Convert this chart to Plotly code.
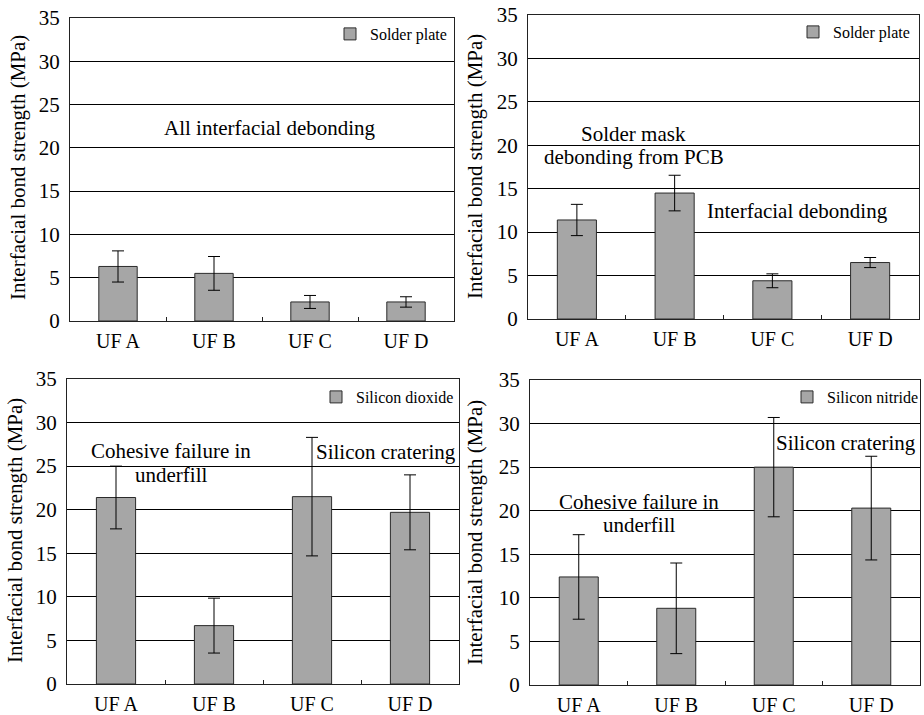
import plotly.graph_objects as go

# ---- data -----------------------------------------------------------------
categories = ["UF A", "UF B", "UF C", "UF D"]

panel_names = ["Solder plate", "Solder plate", "Silicon dioxide", "Silicon nitride"]

strength_p1 = [6.3, 5.5, 2.2, 2.2]
error_p1 = [1.8, 1.95, 0.75, 0.6]

strength_p2 = [11.4, 14.5, 4.4, 6.5]
error_p2 = [1.8, 2.05, 0.8, 0.58]

strength_p3 = [21.4, 6.7, 21.5, 19.7]
error_p3 = [3.6, 3.15, 6.8, 4.3]

strength_p4 = [12.4, 8.8, 25.0, 20.3]
error_p4 = [4.85, 5.2, 5.7, 5.95]

y_ticks = [0, 5, 10, 15, 20, 25, 30, 35]
y_title = "Interfacial bond strength (MPa)"

# ---- layout geometry (pixels in a 924 x 715 page) -------------------------
W, H = 924, 715
FONT = "'Liberation Serif', 'Times New Roman', 'DejaVu Serif', serif"

# plot boxes: left, right, top, bottom
boxes = [
    (70, 454, 18, 321),
    (528, 919, 15, 319),
    (67, 459, 379, 684),
    (530, 920, 380, 685),
]
# y-axis title centres
title_pos = [(18, 168), (475, 167), (15, 531), (475, 533)]
# legend anchor (right edge of text, vertical centre)
legend_pos = [(452, 34), (915, 32), (459, 397), (924, 397)]

series = [
    (strength_p1, error_p1),
    (strength_p2, error_p2),
    (strength_p3, error_p3),
    (strength_p4, error_p4),
]

# in-plot notes, one line each: (panel, x in category units, y in MPa, text)
notes = [
    (0, 1.58, 22.3, "All interfacial debonding"),
    (1, 0.58, 21.26, "Solder mask"),
    (1, 0.58, 18.69, "debonding from PCB"),
    (1, 2.26, 12.4, "Interfacial debonding"),
    (2, 0.565, 26.72, "Cohesive failure in"),
    (2, 0.565, 23.96, "underfill"),
    (2, 2.75, 26.6, "Silicon cratering"),
    (3, 0.62, 21.03, "Cohesive failure in"),
    (3, 0.62, 18.36, "underfill"),
    (3, 2.74, 27.8, "Silicon cratering"),
]

fig = go.Figure()
layout = dict(
    width=W,
    height=H,
    margin=dict(l=0, r=0, t=0, b=0, autoexpand=False),
    paper_bgcolor="white",
    plot_bgcolor="white",
    font=dict(family=FONT, color="black"),
    bargap=0.6,
    annotations=[],
)

for i, ((vals, errs), (l, r, t, b)) in enumerate(zip(series, boxes)):
    sfx = "" if i == 0 else str(i + 1)
    leg = "legend" + sfx
    fig.add_trace(
        go.Bar(
            x=categories,
            y=vals,
            name=panel_names[i],
            marker=dict(color="#a6a6a6", line=dict(color="#2b2b2b", width=1)),
            error_y=dict(type="data", array=errs, symmetric=True,
                         color="black", thickness=1, width=6),
            xaxis="x" + sfx,
            yaxis="y" + sfx,
            legend=leg,
            showlegend=True,
            width=0.4,
        )
    )
    layout["xaxis" + sfx] = dict(
        domain=[l / W, r / W],
        anchor="y" + sfx,
        type="category",
        categoryorder="array",
        categoryarray=categories,
        showline=True,
        linecolor="#222",
        linewidth=1,
        mirror=True,
        ticks="inside",
        ticklen=4,
        tickcolor="#222",
        tickson="boundaries",
        showgrid=False,
        tickfont=dict(family=FONT, size=20, color="black"),
        ticklabelstandoff=2,
        automargin=False,
    )
    layout["yaxis" + sfx] = dict(
        domain=[1 - b / H, 1 - t / H],
        anchor="x" + sfx,
        range=[0, 35],
        tickvals=y_ticks,
        showline=True,
        linecolor="#222",
        linewidth=1,
        mirror=True,
        showgrid=True,
        gridcolor="black",
        gridwidth=1,
        ticks="",
        tickfont=dict(family=FONT, size=21, color="black"),
        ticklabelstandoff=5,
        zeroline=False,
        automargin=False,
    )
    lx, ly = legend_pos[i]
    layout[leg] = dict(
        x=lx / W,
        y=1 - ly / H,
        xanchor="right",
        yanchor="middle",
        bgcolor="rgba(0,0,0,0)",
        borderwidth=0,
        font=dict(family=FONT, size=16, color="black"),
        itemwidth=30,
    )
    tx, ty = title_pos[i]
    layout["annotations"].append(
        dict(
            text=y_title,
            x=tx / W,
            y=1 - ty / H,
            xref="paper",
            yref="paper",
            xanchor="center",
            yanchor="middle",
            textangle=-90,
            showarrow=False,
            font=dict(family=FONT, size=21, color="black"),
        )
    )

for panel, nx, ny, txt in notes:
    sfx = "" if panel == 0 else str(panel + 1)
    layout["annotations"].append(
        dict(
            text=txt,
            x=nx,
            y=ny,
            xref="x" + sfx,
            yref="y" + sfx,
            showarrow=False,
            align="center",
            font=dict(family=FONT, size=21, color="black"),
        )
    )

fig.update_layout(**layout)
fig.write_html("out.html")
